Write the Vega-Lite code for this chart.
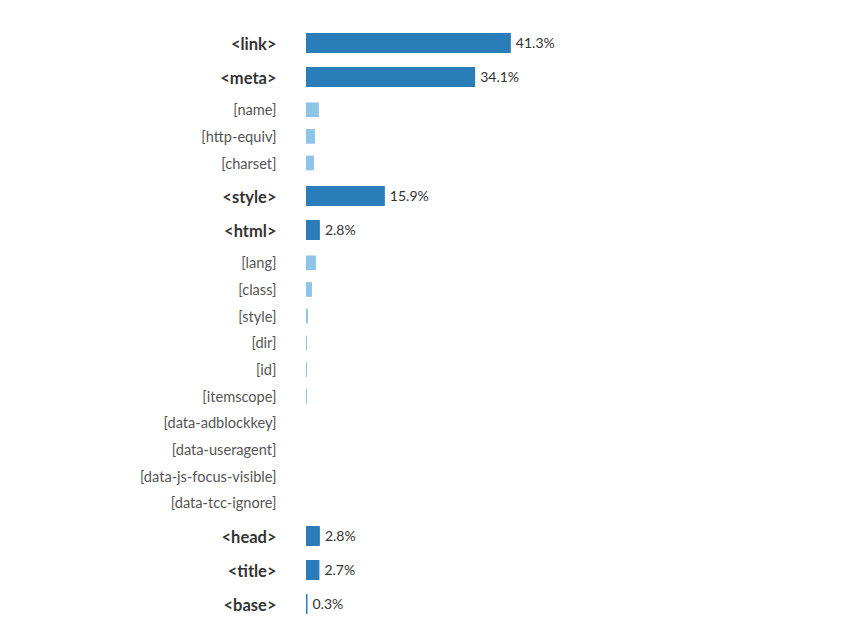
{
  "$schema": "https://vega.github.io/schema/vega-lite/v6.json",
  "padding": {"top": 26, "left": 6, "right": 5, "bottom": 5},
  "spacing": 2.5,
  "datasets": {
    "rows": [
      {"label": "<link>", "group": 1, "kind": "tag", "share": 0.413},
      {"label": "<meta>", "group": 1, "kind": "tag", "share": 0.341},
      {"label": "[name]", "group": 2, "kind": "attr", "share": 0.026},
      {"label": "[http-equiv]", "group": 2, "kind": "attr", "share": 0.018},
      {"label": "[charset]", "group": 2, "kind": "attr", "share": 0.016},
      {"label": "<style>", "group": 3, "kind": "tag", "share": 0.159},
      {"label": "<html>", "group": 3, "kind": "tag", "share": 0.028},
      {"label": "[lang]", "group": 4, "kind": "attr", "share": 0.02},
      {"label": "[class]", "group": 4, "kind": "attr", "share": 0.012},
      {"label": "[style]", "group": 4, "kind": "attr", "share": 0.004},
      {"label": "[dir]", "group": 4, "kind": "attr", "share": 0.002},
      {"label": "[id]", "group": 4, "kind": "attr", "share": 0.002},
      {"label": "[itemscope]", "group": 4, "kind": "attr", "share": 0.002},
      {"label": "[data-adblockkey]", "group": 4, "kind": "attr", "share": 0},
      {"label": "[data-useragent]", "group": 4, "kind": "attr", "share": 0},
      {"label": "[data-js-focus-visible]", "group": 4, "kind": "attr", "share": 0},
      {"label": "[data-tcc-ignore]", "group": 4, "kind": "attr", "share": 0},
      {"label": "<head>", "group": 5, "kind": "tag", "share": 0.028},
      {"label": "<title>", "group": 5, "kind": "tag", "share": 0.027},
      {"label": "<base>", "group": 5, "kind": "tag", "share": 0.003}
    ]
  },
  "vconcat": [
    {
      "data": {"name": "rows"},
      "transform": [{"filter": "datum.group == 1"}],
      "width": 248,
      "height": {"step": 34},
      "encoding": {
        "y": {"field": "label", "type": "nominal", "sort": null, "axis": {"labelFontWeight": "bold", "labelFontSize": 16.5, "labelColor": "#333333", "labelOffset": 2}},
        "x": {"field": "share", "type": "quantitative", "scale": {"domain": [0, 0.5]}, "axis": null}
      },
      "layer": [
        {"mark": {"type": "bar", "size": 20, "color": "#2b7db9"}},
        {"mark": {"type": "text", "align": "left", "dx": 5, "dy": 1, "fontSize": 14, "font": "Lato", "color": "#333333"}, "encoding": {"text": {"field": "share", "type": "quantitative", "format": ".1%"}}}
      ]
    },
    {
      "data": {"name": "rows"},
      "transform": [{"filter": "datum.group == 2"}],
      "width": 248,
      "height": {"step": 26.6},
      "encoding": {
        "y": {"field": "label", "type": "nominal", "sort": null, "axis": {"labelFontSize": 14.6, "labelColor": "#555555", "labelOffset": 1.5}},
        "x": {"field": "share", "type": "quantitative", "scale": {"domain": [0, 0.5]}, "axis": null}
      },
      "layer": [
        {"mark": {"type": "bar", "size": 14.7, "color": "#8fc4e9"}}
      ]
    },
    {
      "data": {"name": "rows"},
      "transform": [{"filter": "datum.group == 3"}],
      "width": 248,
      "height": {"step": 34},
      "encoding": {
        "y": {"field": "label", "type": "nominal", "sort": null, "axis": {"labelFontWeight": "bold", "labelFontSize": 16.5, "labelColor": "#333333", "labelOffset": 2}},
        "x": {"field": "share", "type": "quantitative", "scale": {"domain": [0, 0.5]}, "axis": null}
      },
      "layer": [
        {"mark": {"type": "bar", "size": 20, "color": "#2b7db9"}},
        {"mark": {"type": "text", "align": "left", "dx": 5, "dy": 1, "fontSize": 14, "font": "Lato", "color": "#333333"}, "encoding": {"text": {"field": "share", "type": "quantitative", "format": ".1%"}}}
      ]
    },
    {
      "data": {"name": "rows"},
      "transform": [{"filter": "datum.group == 4"}],
      "width": 248,
      "height": {"step": 26.65},
      "encoding": {
        "y": {"field": "label", "type": "nominal", "sort": null, "axis": {"labelFontSize": 14.6, "labelColor": "#555555", "labelOffset": 1.5}},
        "x": {"field": "share", "type": "quantitative", "scale": {"domain": [0, 0.5]}, "axis": null}
      },
      "layer": [
        {"mark": {"type": "bar", "size": 14.7, "color": "#8fc4e9"}}
      ]
    },
    {
      "data": {"name": "rows"},
      "transform": [{"filter": "datum.group == 5"}],
      "width": 248,
      "height": {"step": 34},
      "encoding": {
        "y": {"field": "label", "type": "nominal", "sort": null, "axis": {"labelFontWeight": "bold", "labelFontSize": 16.5, "labelColor": "#333333", "labelOffset": 2}},
        "x": {"field": "share", "type": "quantitative", "scale": {"domain": [0, 0.5]}, "axis": null}
      },
      "layer": [
        {"mark": {"type": "bar", "size": 20, "color": "#2b7db9"}},
        {"mark": {"type": "text", "align": "left", "dx": 5, "dy": 1, "fontSize": 14, "font": "Lato", "color": "#333333"}, "encoding": {"text": {"field": "share", "type": "quantitative", "format": ".1%"}}}
      ]
    }
  ],
  "config": {
    "view": {"stroke": null},
    "font": "Lato",
    "axisY": {
      "title": null,
      "ticks": false,
      "domain": false,
      "grid": false,
      "labelFont": "Lato",
      "labelPadding": 30,
      "labelLimit": 300,
      "minExtent": 300,
      "maxExtent": 300
    }
  }
}
